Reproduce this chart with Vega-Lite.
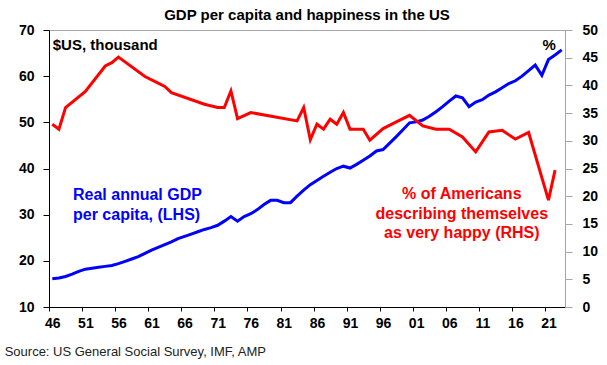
{
  "$schema": "https://vega.github.io/schema/vega-lite/v6.json",
  "width": 516,
  "height": 277,
  "autosize": {"type": "none"},
  "padding": {"left": 49, "top": 30, "right": 42, "bottom": 58},
  "background": "white",
  "config": {
    "font": "Liberation Sans",
    "view": {"stroke": "#A6A6A6", "strokeWidth": 1},
    "axis": {"grid": false, "title": null, "labelFont": "Liberation Sans", "labelFontSize": 14, "labelFontWeight": "bold", "labelColor": "black", "labelOverlap": false, "labelBound": false, "labelFlush": false}
  },
  "title": {"text": "GDP per capita and happiness in the US", "fontSize": 15, "font": "Liberation Sans", "fontWeight": "bold", "color": "black", "anchor": "middle", "offset": 0},
  "datasets": {
    "gdp": [
      {"year": 1946, "gdp": 16.1}, {"year": 1947, "gdp": 16.3}, {"year": 1948, "gdp": 16.6}, {"year": 1949, "gdp": 17.1},
      {"year": 1950, "gdp": 17.7}, {"year": 1951, "gdp": 18.2}, {"year": 1952, "gdp": 18.4}, {"year": 1953, "gdp": 18.6},
      {"year": 1954, "gdp": 18.8}, {"year": 1955, "gdp": 19.0}, {"year": 1956, "gdp": 19.4}, {"year": 1957, "gdp": 19.9},
      {"year": 1958, "gdp": 20.4}, {"year": 1959, "gdp": 20.9}, {"year": 1960, "gdp": 21.6}, {"year": 1961, "gdp": 22.3},
      {"year": 1962, "gdp": 22.9}, {"year": 1963, "gdp": 23.5}, {"year": 1964, "gdp": 24.1}, {"year": 1965, "gdp": 24.8},
      {"year": 1966, "gdp": 25.3}, {"year": 1967, "gdp": 25.8}, {"year": 1968, "gdp": 26.3}, {"year": 1969, "gdp": 26.8},
      {"year": 1970, "gdp": 27.2}, {"year": 1971, "gdp": 27.7}, {"year": 1972, "gdp": 28.6}, {"year": 1973, "gdp": 29.6},
      {"year": 1974, "gdp": 28.6}, {"year": 1975, "gdp": 29.6}, {"year": 1976, "gdp": 30.2}, {"year": 1977, "gdp": 31.1},
      {"year": 1978, "gdp": 32.2}, {"year": 1979, "gdp": 33.1}, {"year": 1980, "gdp": 33.1}, {"year": 1981, "gdp": 32.6},
      {"year": 1982, "gdp": 32.6}, {"year": 1983, "gdp": 34.0}, {"year": 1984, "gdp": 35.3}, {"year": 1985, "gdp": 36.5},
      {"year": 1986, "gdp": 37.4}, {"year": 1987, "gdp": 38.3}, {"year": 1988, "gdp": 39.2}, {"year": 1989, "gdp": 40.0},
      {"year": 1990, "gdp": 40.5}, {"year": 1991, "gdp": 40.1}, {"year": 1992, "gdp": 40.9}, {"year": 1993, "gdp": 41.8},
      {"year": 1994, "gdp": 42.7}, {"year": 1995, "gdp": 43.8}, {"year": 1996, "gdp": 44.1}, {"year": 1997, "gdp": 45.5},
      {"year": 1998, "gdp": 46.9}, {"year": 1999, "gdp": 48.4}, {"year": 2000, "gdp": 49.9}, {"year": 2001, "gdp": 50.1},
      {"year": 2002, "gdp": 50.5}, {"year": 2003, "gdp": 51.3}, {"year": 2004, "gdp": 52.3}, {"year": 2005, "gdp": 53.4},
      {"year": 2006, "gdp": 54.6}, {"year": 2007, "gdp": 55.7}, {"year": 2008, "gdp": 55.3}, {"year": 2009, "gdp": 53.4},
      {"year": 2010, "gdp": 54.4}, {"year": 2011, "gdp": 54.9}, {"year": 2012, "gdp": 55.9}, {"year": 2013, "gdp": 56.6},
      {"year": 2014, "gdp": 57.5}, {"year": 2015, "gdp": 58.4}, {"year": 2016, "gdp": 59.0}, {"year": 2017, "gdp": 60.0},
      {"year": 2018, "gdp": 61.2}, {"year": 2019, "gdp": 62.4}, {"year": 2020, "gdp": 60.2}, {"year": 2021, "gdp": 63.6},
      {"year": 2022, "gdp": 64.6}, {"year": 2023, "gdp": 65.7}
    ],
    "happy": [
      {"year": 1946, "pct": 33.0}, {"year": 1947, "pct": 32.1}, {"year": 1948, "pct": 36.0}, {"year": 1951, "pct": 38.9},
      {"year": 1954, "pct": 43.5}, {"year": 1955, "pct": 44.1}, {"year": 1956, "pct": 45.1}, {"year": 1960, "pct": 41.6},
      {"year": 1962, "pct": 40.4}, {"year": 1963, "pct": 39.8}, {"year": 1964, "pct": 38.7}, {"year": 1969, "pct": 36.6},
      {"year": 1971, "pct": 36.0}, {"year": 1972, "pct": 36.0}, {"year": 1973, "pct": 39.0}, {"year": 1974, "pct": 34.0},
      {"year": 1976, "pct": 35.1}, {"year": 1983, "pct": 33.6}, {"year": 1984, "pct": 36.0}, {"year": 1985, "pct": 30.2},
      {"year": 1986, "pct": 33.0}, {"year": 1987, "pct": 32.1}, {"year": 1988, "pct": 33.9}, {"year": 1989, "pct": 33.0},
      {"year": 1990, "pct": 35.1}, {"year": 1991, "pct": 32.1}, {"year": 1993, "pct": 32.1}, {"year": 1994, "pct": 30.1},
      {"year": 1996, "pct": 32.2}, {"year": 1998, "pct": 33.4}, {"year": 2000, "pct": 34.6}, {"year": 2002, "pct": 32.7},
      {"year": 2004, "pct": 32.1}, {"year": 2006, "pct": 32.1}, {"year": 2008, "pct": 30.7}, {"year": 2010, "pct": 28.0},
      {"year": 2012, "pct": 31.6}, {"year": 2014, "pct": 31.9}, {"year": 2016, "pct": 30.3}, {"year": 2018, "pct": 31.5},
      {"year": 2021, "pct": 19.3}, {"year": 2022, "pct": 24.7}
    ]
  },
  "layer": [
    {
      "layer": [
        {
          "data": {"name": "gdp"},
          "mark": {"type": "line", "color": "#0000FF", "strokeWidth": 3},
          "encoding": {
            "x": {"field": "year", "type": "quantitative", "scale": {"domain": [1945.5, 2023.5], "nice": false, "zero": false},
                  "axis": {"orient": "bottom", "values": [1945.5, 1950.5, 1955.5, 1960.5, 1965.5, 1970.5, 1975.5, 1980.5, 1985.5, 1990.5, 1995.5, 2000.5, 2005.5, 2010.5, 2015.5, 2020.5],
                           "labelExpr": "substring(toString(datum.value + 0.5), 2, 4)", "labelOffset": 3.3, "labelPadding": 5, "tickSize": 4, "tickColor": "black", "domainColor": "black", "labelOverlap": false, "labelSeparation": 0, "tickCount": 16}},
            "y": {"field": "gdp", "type": "quantitative", "scale": {"domain": [10, 70], "nice": false, "zero": false},
                  "axis": {"orient": "left", "values": [10, 20, 30, 40, 50, 60, 70], "tickSize": 6, "tickColor": "black", "domainColor": "black", "labelPadding": 9, "labelOverlap": false}}
          }
        },
        {
          "data": {"values": [{}]},
          "mark": {"type": "text", "text": ["Real annual GDP", "per capita, (LHS)"], "color": "#0000FF", "font": "Liberation Sans", "fontSize": 16, "fontWeight": "bold", "align": "left", "baseline": "alphabetic", "lineHeight": 20},
          "encoding": {"x": {"datum": 1949.13, "type": "quantitative"}, "y": {"datum": 33.18, "type": "quantitative"}}
        },
        {
          "data": {"values": [{}]},
          "mark": {"type": "text", "text": "$US, thousand", "color": "black", "font": "Liberation Sans", "fontSize": 15, "fontWeight": "bold", "align": "left", "baseline": "alphabetic"},
          "encoding": {"x": {"datum": 1946.06, "type": "quantitative"}, "y": {"datum": 65.67, "type": "quantitative"}}
        },
        {
          "data": {"values": [{}]},
          "mark": {"type": "text", "text": "Source: US General Social Survey, IMF, AMP", "color": "#222222", "font": "Liberation Sans", "fontSize": 13, "align": "left", "baseline": "middle"},
          "encoding": {"x": {"datum": 1938.8, "type": "quantitative"}, "y": {"datum": 0.25, "type": "quantitative"}}
        }
      ]
    },
    {
      "layer": [
        {
          "data": {"name": "happy"},
          "mark": {"type": "line", "color": "#FF0000", "strokeWidth": 3},
          "encoding": {
            "x": {"field": "year", "type": "quantitative", "scale": {"domain": [1945.5, 2023.5], "nice": false, "zero": false},
                  "axis": {"orient": "bottom", "values": [1945.5, 1950.5, 1955.5, 1960.5, 1965.5, 1970.5, 1975.5, 1980.5, 1985.5, 1990.5, 1995.5, 2000.5, 2005.5, 2010.5, 2015.5, 2020.5],
                           "labelExpr": "substring(toString(datum.value + 0.5), 2, 4)", "labelOffset": 3.3, "labelPadding": 5, "tickSize": 4, "tickColor": "black", "domainColor": "black", "labelOverlap": false, "labelSeparation": 0, "tickCount": 16}},
            "y": {"field": "pct", "type": "quantitative", "scale": {"domain": [0, 50], "nice": false, "zero": false},
                  "axis": {"orient": "right", "values": [0, 5, 10, 15, 20, 25, 30, 35, 40, 45, 50], "tickSize": 7, "tickColor": "#A6A6A6", "domainColor": "#A6A6A6", "labelPadding": 10, "labelOverlap": false, "tickCount": 11}}
          }
        },
        {
          "data": {"values": [{}]},
          "mark": {"type": "text", "text": ["% of Americans", "describing themselves", "as very happy (RHS)"], "color": "#FF0000", "font": "Liberation Sans", "fontSize": 16, "fontWeight": "bold", "align": "center", "baseline": "alphabetic", "lineHeight": 19.5},
          "encoding": {"x": {"datum": 2007.9, "type": "quantitative"}, "y": {"datum": 19.44, "type": "quantitative"}}
        },
        {
          "data": {"values": [{}]},
          "mark": {"type": "text", "text": "%", "color": "black", "font": "Liberation Sans", "fontSize": 15, "fontWeight": "bold", "align": "right", "baseline": "alphabetic"},
          "encoding": {"x": {"datum": 2022.1, "type": "quantitative"}, "y": {"datum": 46.39, "type": "quantitative"}}
        }
      ]
    }
  ],
  "resolve": {"scale": {"y": "independent"}}
}
